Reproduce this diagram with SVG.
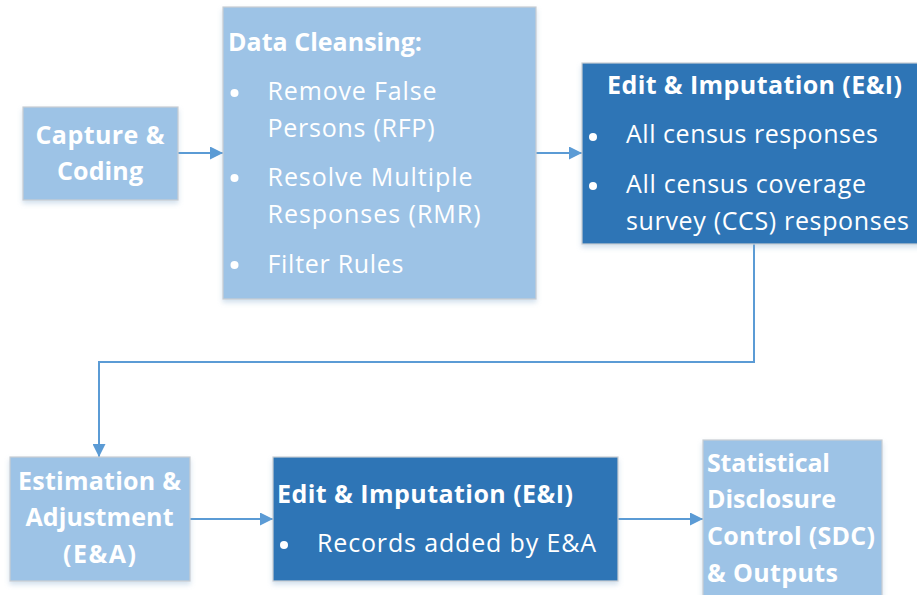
<svg xmlns="http://www.w3.org/2000/svg" width="917" height="595" viewBox="0 0 917 595">
<defs>
<style>
.light{fill:#9DC3E6;stroke:#C9CDD2;stroke-width:1.2}
.dark{fill:#2E75B6;stroke:#C9CDD2;stroke-width:1.2}
.b{font-family:"Open Sans","Liberation Sans",sans-serif;font-weight:bold;font-size:25px;fill:#FFFFFF}
.r{font-family:"Open Sans","Liberation Sans",sans-serif;font-size:25px;fill:#FFFFFF}
.dot{fill:#FFFFFF}
.conn{fill:none;stroke:#5B9BD5;stroke-width:2}
</style>
<filter id="sh" x="-10%" y="-10%" width="120%" height="130%">
<feDropShadow dx="0" dy="3" stdDeviation="2.5" flood-color="#7FA7CF" flood-opacity="0.35"/>
</filter>
<marker id="arr" viewBox="0 0 10 10" refX="10" refY="5" markerWidth="6.5" markerHeight="6.5" markerUnits="strokeWidth" orient="auto">
<path d="M0,0 L10,5 L0,10 Z" fill="#5B9BD5"/>
</marker>
</defs>
<rect width="917" height="595" fill="#FFFFFF"/>

<g id="connectors">
<path class="conn" d="M178,153 H223" marker-end="url(#arr)"/>
<path class="conn" d="M536,153 H582" marker-end="url(#arr)"/>
<path class="conn" d="M754,244 V362 H99 V457" marker-end="url(#arr)"/>
<path class="conn" d="M190,519 H273" marker-end="url(#arr)"/>
<path class="conn" d="M618,519 H703" marker-end="url(#arr)"/>
</g>

<g id="capture">
<rect class="light" x="23" y="107" width="155" height="93" filter="url(#sh)"/>
<text class="b" x="100" y="144" text-anchor="middle" textLength="129">Capture &amp;</text>
<text class="b" x="100" y="180" text-anchor="middle" textLength="86">Coding</text>
</g>

<g id="cleansing">
<rect class="light" x="223" y="7" width="313" height="292" filter="url(#sh)"/>
<text class="b" x="228" y="51" textLength="194">Data Cleansing:</text>
<circle class="dot" cx="234.5" cy="93" r="4"/>
<text class="r" x="267.5" y="100" textLength="169">Remove False</text>
<text class="r" x="267.5" y="137" textLength="167">Persons (RFP)</text>
<circle class="dot" cx="234.5" cy="178" r="4"/>
<text class="r" x="267.5" y="186" textLength="205">Resolve Multiple</text>
<text class="r" x="267.5" y="223" textLength="213">Responses (RMR)</text>
<circle class="dot" cx="234.5" cy="265" r="4"/>
<text class="r" x="267.5" y="273" textLength="136">Filter Rules</text>
</g>

<g id="ei1">
<rect class="dark" x="582" y="63" width="340" height="181" filter="url(#sh)"/>
<text class="b" x="607" y="94" textLength="295">Edit &amp; Imputation (E&amp;I)</text>
<circle class="dot" cx="593" cy="137" r="4"/>
<text class="r" x="626" y="143" textLength="252">All census responses</text>
<circle class="dot" cx="593" cy="186" r="4"/>
<text class="r" x="626" y="193" textLength="240">All census coverage</text>
<text class="r" x="626" y="230" textLength="283">survey (CCS) responses</text>
</g>

<g id="ea">
<rect class="light" x="10" y="457" width="180" height="124" filter="url(#sh)"/>
<text class="b" x="99.5" y="490" text-anchor="middle" textLength="163">Estimation &amp;</text>
<text class="b" x="99.5" y="526" text-anchor="middle" textLength="148">Adjustment</text>
<text class="b" x="99.5" y="563" text-anchor="middle" textLength="73">(E&amp;A)</text>
</g>

<g id="ei2">
<rect class="dark" x="273" y="457" width="345" height="124" filter="url(#sh)"/>
<text class="b" x="277" y="503" textLength="296">Edit &amp; Imputation (E&amp;I)</text>
<circle class="dot" cx="284" cy="545" r="4"/>
<text class="r" x="317" y="552" textLength="279">Records added by E&amp;A</text>
</g>

<g id="sdc">
<rect class="light" x="703" y="440" width="179" height="170" filter="url(#sh)"/>
<text class="b" x="707" y="472" textLength="123">Statistical</text>
<text class="b" x="707" y="508" textLength="129">Disclosure</text>
<text class="b" x="707" y="545" textLength="168">Control (SDC)</text>
<text class="b" x="707" y="582" textLength="131">&amp; Outputs</text>
</g>
</svg>
